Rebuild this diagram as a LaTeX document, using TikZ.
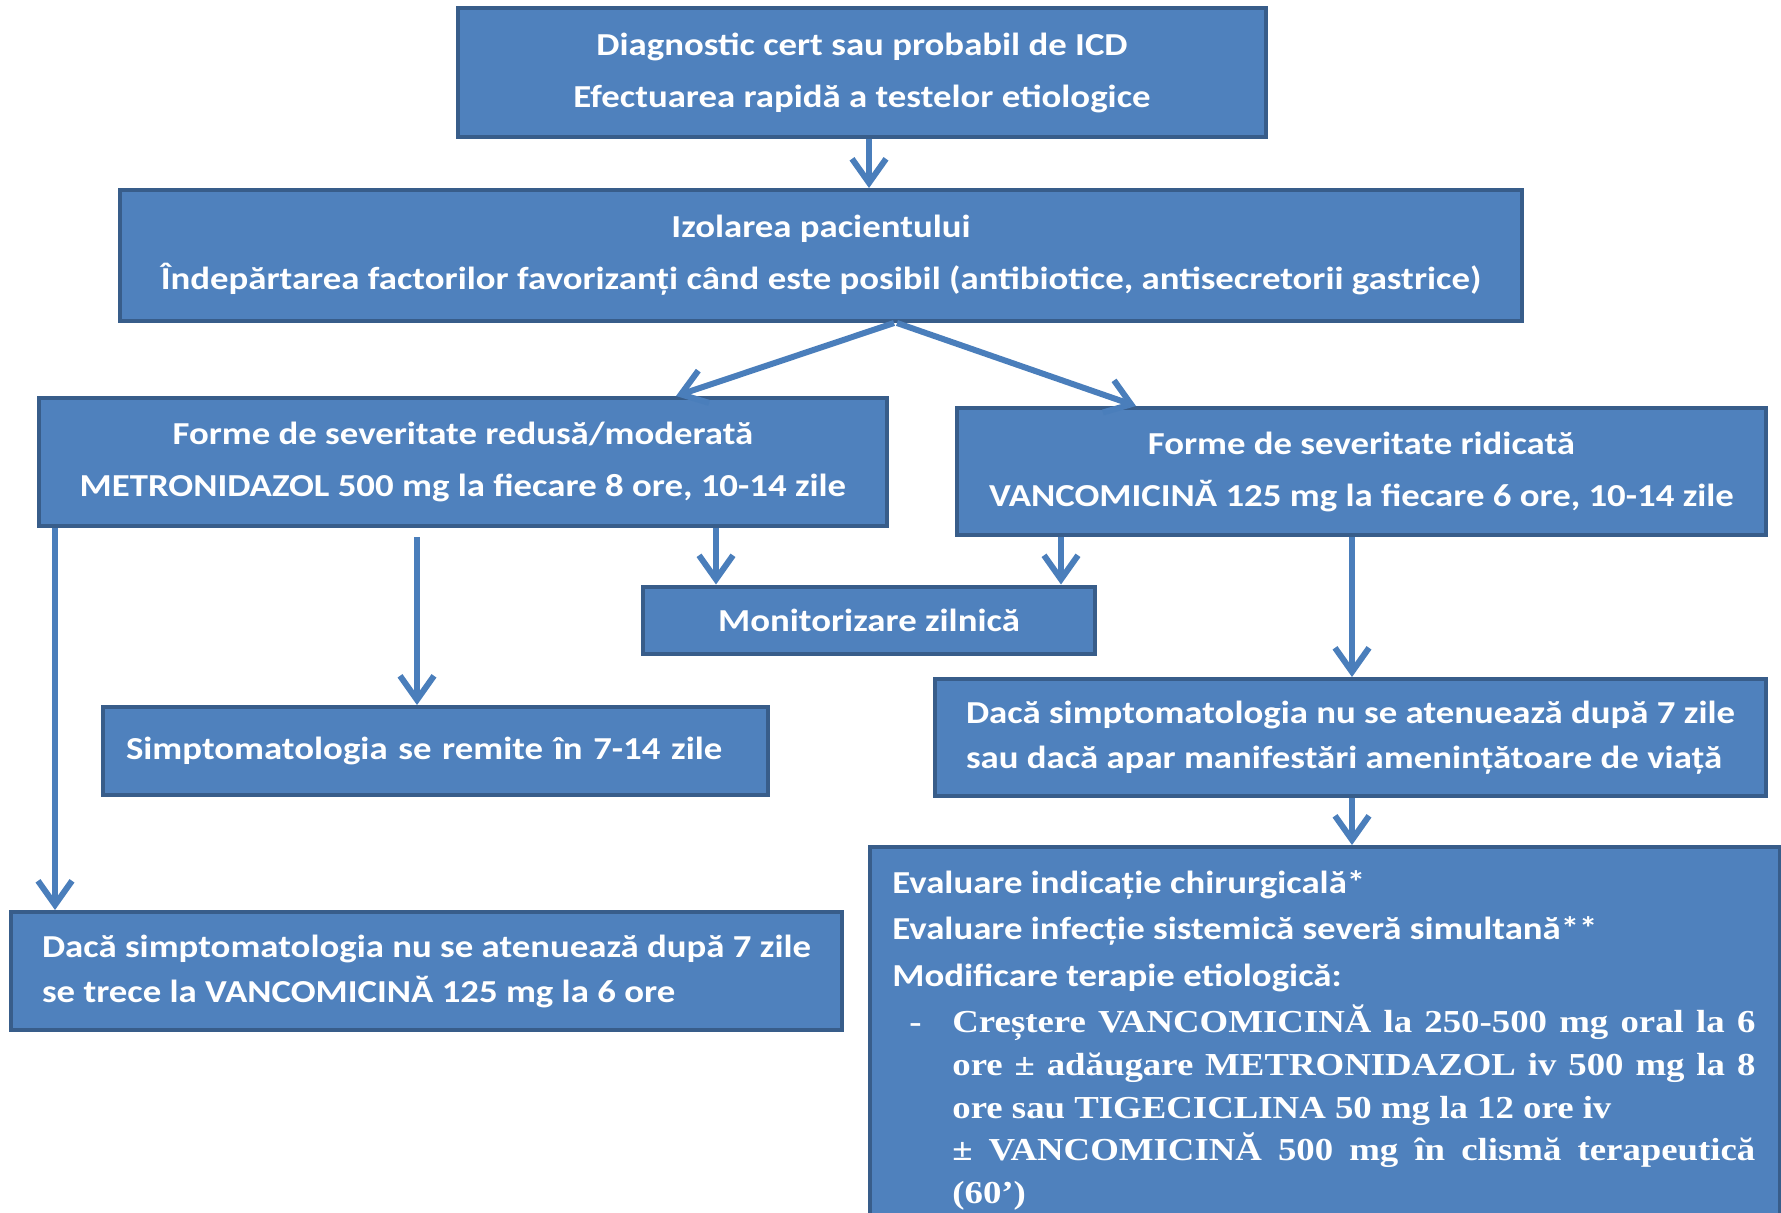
\documentclass[tikz,border=0pt]{standalone}
\usepackage{fontspec}
\setmainfont{Carlito}[FakeStretch=1.15]
\newfontfamily\timesbf{Liberation Serif}[FakeStretch=1.15]
\usetikzlibrary{arrows.meta}
\definecolor{boxfill}{HTML}{4F81BD}
\definecolor{boxedge}{HTML}{385D8A}
\definecolor{arrowblue}{HTML}{4A7EBB}
\begin{document}
\begin{tikzpicture}[x=.5pt, y=-.5pt,
    box/.style={draw=boxedge, fill=boxfill, line width=2pt, text=white, inner sep=0pt, align=center, font=\bfseries\fontsize{16}{26}\selectfont},
    leftbox/.style={box, inner xsep=11.5pt, align=left, font=\bfseries\fontsize{16}{22.5}\selectfont},
    arr/.style={draw=arrowblue, line width=3pt, -{Straight Barb[length=12pt, width=17pt]}}]
	\path[use as bounding box, clip] (0,0) rectangle (1781,1212);
	\node[box, minimum width=404pt,    minimum height=64.5pt] (diag)     at (862,72.5)     {Diagnostic cert sau probabil de ICD\\Efectuarea rapidă a testelor etiologice};
	\node[box, minimum width=701pt,    minimum height=65.5pt] (izol)     at (821,255.5)    {Izolarea pacientului\\Îndepărtarea factorilor favorizanți când este posibil (antibiotice, antisecretorii gastrice)};
	\node[box, minimum width=424pt,    minimum height=64pt]   (usoara)   at (463,462)      {Forme de severitate redusă/moderată\\METRONIDAZOL 500 mg la fiecare 8 ore, 10-14 zile};
	\node[box, minimum width=404.5pt,  minimum height=63.5pt] (severa)   at (1361.5,471.5) {Forme de severitate ridicată\\VANCOMICINĂ 125 mg la fiecare 6 ore, 10-14 zile};
	\node[box, minimum width=226pt,    minimum height=33.5pt] (monit)    at (869,620)      {Monitorizare zilnică};
	\node[leftbox, text width=309.5pt, minimum height=44pt]   (remite)   at (435.5,751)    {Simptomatologia se remite în 7-14 zile};
	\node[leftbox, minimum width=415.5pt, minimum height=59pt]   (trece) at (426.5,971)    {Dacă simptomatologia nu se atenuează după 7 zile\\se trece la VANCOMICINĂ 125 mg la 6 ore};
	\node[leftbox, minimum width=415.5pt, minimum height=58.5pt] (agrav) at (1350.5,737.5) {Dacă simptomatologia nu se atenuează după 7 zile\\sau dacă apar manifestări amenințătoare de viață};
	\node[box, anchor=north west, minimum width=455pt, minimum height=210pt] (evaluare) at (868,845) {};
	\node[anchor=north west, inner sep=0pt, text=white, font=\bfseries\fontsize{16}{23.3}\selectfont] (evtext) at (892,860) {%
		\begin{tabular}{@{\hspace{8.5pt}}p{21.5pt}@{}l@{}}
			\multicolumn{2}{@{}l@{}}{Evaluare indicație chirurgicală*}\\
			\multicolumn{2}{@{}l@{}}{Evaluare infecție sistemică severă simultană**}\\
			\multicolumn{2}{@{}l@{}}{Modificare terapie etiologică:}\\
			\timesbf - & \timesbf\makebox[401.5pt][s]{Creștere VANCOMICINĂ la 250-500 mg oral la 6}\\[-2pt]
			& \timesbf\makebox[401.5pt][s]{ore ± adăugare METRONIDAZOL iv 500 mg la 8}\\[-2pt]
			& \timesbf ore sau TIGECICLINA 50 mg la 12 ore iv\\[-2pt]
			& \timesbf\makebox[401.5pt][s]{± VANCOMICINĂ 500 mg în clismă terapeutică}\\[-2pt]
			& \timesbf (60’)
		\end{tabular}};
	\draw[arr] (diag.south -| 869,0)    -- (izol.north -| 869,0);
	\draw[arr] (izol.south -| 894,0)    -- (usoara.north -| 676,0);
	\draw[arr] (izol.south -| 897,0)    -- (severa.north -| 1136,0);
	\draw[arr] (usoara.south -| 55,0)   -- (trece.north -| 55,0);
	\draw[arr, shorten <=4.5pt] (usoara.south -| 417,0) -- (remite.north -| 417,0);
	\draw[arr] (usoara.south -| 716,0)  -- (monit.north -| 716,0);
	\draw[arr] (severa.south -| 1061,0) -- (monit.north -| 1061,0);
	\draw[arr] (severa.south -| 1352,0) -- (agrav.north -| 1352,0);
	\draw[arr] (agrav.south -| 1352,0)  -- (evaluare.north -| 1352,0);
\end{tikzpicture}
\end{document}
